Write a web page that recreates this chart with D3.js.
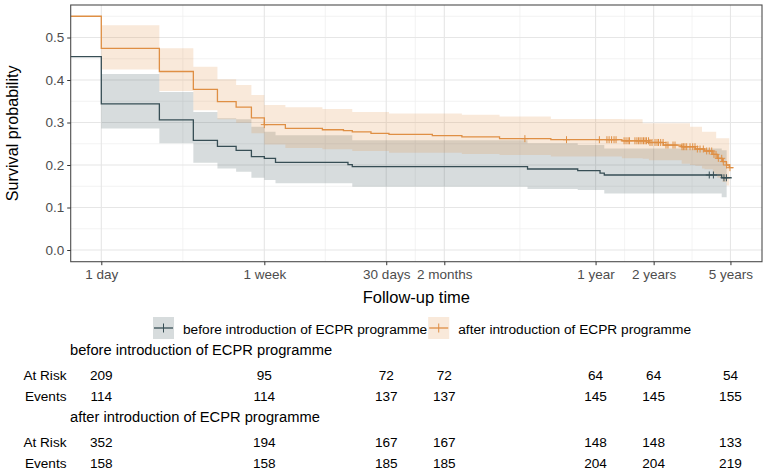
<!DOCTYPE html>
<html>
<head>
<meta charset="utf-8">
<script src="https://cdn.jsdelivr.net/npm/d3@7"></script>
<style>
  body { margin: 0; background: white; }
  svg { font-family: "Liberation Sans", Arial, sans-serif; }
</style>
</head>
<body>
<script>
//initial settings for the page
const width = 767;
const height = 470;

// --------------------
// DATA
// --------------------
const groups = ["before introduction of ECPR programme", "after introduction of ECPR programme"];
const colors = ["#374E55", "#DF8F44"];

// x ticks (days) and labels
const tickDays = [1, 7, 30, 60, 365, 730, 1826];
const tickLabels = ["1 day", "1 week", "30 days", "2 months", "1 year", "2 years", "5 years"];
const yTicks = [0, 0.1, 0.2, 0.3, 0.4, 0.5];

// before: step curve (time 0 = start of follow-up, last entry = end of follow-up)
const beforeTime = [0, 1, 2, 3, 4, 5, 6, 7, 8, 19, 20, 162, 295, 385, 405, 1645, 1853];
const beforeSurv = [0.455, 0.344, 0.306, 0.258, 0.244, 0.2345, 0.2196, 0.2157, 0.2063, 0.2008, 0.196, 0.1906, 0.1866, 0.181, 0.1765, 0.170, 0.170];
const beforeCiTime = [1, 2, 3, 4, 5, 6, 7, 8, 20, 162, 295, 405, 1645, 1745];
const beforeLower = [0.286, 0.251, 0.2055, 0.192, 0.184, 0.170, 0.1647, 0.157, 0.149, 0.1435, 0.141, 0.133, 0.124, 0.124];
const beforeUpper = [0.414, 0.372, 0.325, 0.31, 0.3075, 0.29, 0.278, 0.27, 0.258, 0.251, 0.247, 0.239, 0.235, 0.235];
const beforeCensor = [1418, 1490, 1690, 1740];

// after
const afterTime = [0, 1, 2, 3, 4, 5, 6, 7, 9, 14, 18, 20, 25, 31, 52, 74, 116, 214, 500, 690, 820, 1020, 1200, 1340, 1480, 1560, 1660, 1740, 1800, 1890];
const afterSurv = [0.55, 0.4745, 0.420, 0.378, 0.349, 0.336, 0.311, 0.295, 0.286, 0.283, 0.281, 0.278, 0.2745, 0.272, 0.269, 0.266, 0.262, 0.2595, 0.257, 0.253, 0.247, 0.243, 0.2376, 0.233, 0.225, 0.2157, 0.208, 0.200, 0.1937, 0.1937];
const afterCiTime = [1, 2, 3, 4, 5, 6, 7, 9, 14, 20, 31, 74, 116, 214, 500, 640, 690, 1020, 1127, 1200, 1300, 1340, 1480, 1540, 1560, 1660, 1740, 1800];
const afterLower = [0.425, 0.374, 0.329, 0.3075, 0.2996, 0.275, 0.248, 0.240, 0.237, 0.233, 0.229, 0.226, 0.2235, 0.220, 0.216, 0.215, 0.211, 0.203, 0.20, 0.198, 0.192, 0.19, 0.18, 0.175, 0.17, 0.16, 0.152, 0.152];
const afterUpper = [0.529, 0.4745, 0.431, 0.402, 0.388, 0.365, 0.341, 0.336, 0.332, 0.325, 0.321, 0.318, 0.314, 0.308, 0.3075, 0.298, 0.298, 0.298, 0.29, 0.29, 0.278, 0.278, 0.278, 0.263, 0.263, 0.263, 0.263, 0.263];
const afterCensor = [7, 157, 258, 382, 418, 429, 442, 455, 466, 513, 525, 538, 547, 584, 598, 610, 621, 635, 647, 659, 670, 687, 699, 716, 742, 760, 774, 794, 817, 846, 866, 920, 942, 1024, 1041, 1061, 1083, 1127, 1164, 1196, 1230, 1270, 1321, 1375, 1418, 1460, 1500, 1537, 1580, 1645, 1677, 1745, 1815];

// risk table
const beforeAtRisk = [209, 95, 72, 72, 64, 64, 54];
const beforeEvents = [114, 114, 137, 137, 145, 145, 155];
const afterAtRisk = [352, 194, 167, 167, 148, 148, 133];
const afterEvents = [158, 158, 185, 185, 204, 204, 219];

// --------------------
// SETUP
// --------------------
const panel = {left: 70.7, right: 762, top: 5, bottom: 261.7};

const svg = d3.select("body")
  .append("svg")
  .attr("width", width)
  .attr("height", height);

svg.append("rect").attr("width", width).attr("height", height).attr("fill", "white");

// log time axis, domain includes ggplot-like padding
const x = d3.scaleLog()
  .domain([0.694, 2661])
  .range([panel.left, panel.right]);

const y = d3.scaleLinear()
  .domain([0, 0.5])
  .range([250, 37.5]);

const tx = t => x(Math.max(t, x.domain()[0]));

// --------------------
// GRID
// --------------------
const grid = svg.append("g");
const lg = d3.range(tickDays.length - 1).map(i => Math.sqrt(tickDays[i] * tickDays[i + 1]));
const yMinor = yTicks.map(v => v + 0.05);

grid.selectAll(".xminor").data(lg).enter().append("line")
  .attr("x1", d => x(d)).attr("x2", d => x(d))
  .attr("y1", panel.top).attr("y2", panel.bottom)
  .attr("stroke", "#F0F0F0").attr("stroke-width", 0.8);
grid.selectAll(".yminor").data(yMinor).enter().append("line")
  .attr("x1", panel.left).attr("x2", panel.right)
  .attr("y1", d => y(d)).attr("y2", d => y(d))
  .attr("stroke", "#F0F0F0").attr("stroke-width", 0.8);
grid.selectAll(".xmajor").data(tickDays).enter().append("line")
  .attr("x1", d => x(d)).attr("x2", d => x(d))
  .attr("y1", panel.top).attr("y2", panel.bottom)
  .attr("stroke", "#E6E6E6").attr("stroke-width", 1.1);
grid.selectAll(".ymajor").data(yTicks).enter().append("line")
  .attr("x1", panel.left).attr("x2", panel.right)
  .attr("y1", d => y(d)).attr("y2", d => y(d))
  .attr("stroke", "#E6E6E6").attr("stroke-width", 1.1);

// --------------------
// CURVES
// --------------------
const plot = svg.append("g");

const area = d3.area()
  .curve(d3.curveStepAfter)
  .x(d => tx(d.t))
  .y0(d => y(d.lo))
  .y1(d => y(d.hi));

const line = d3.line()
  .curve(d3.curveStepAfter)
  .x(d => tx(d.t))
  .y(d => y(d.s));

const series = [
  {time: beforeTime, surv: beforeSurv, ciTime: beforeCiTime, lower: beforeLower, upper: beforeUpper, censor: beforeCensor},
  {time: afterTime, surv: afterSurv, ciTime: afterCiTime, lower: afterLower, upper: afterUpper, censor: afterCensor}
];

// ribbons first
series.forEach((s, k) => {
  const ci = s.ciTime.map((t, i) => ({t: t, lo: s.lower[i], hi: s.upper[i]}));
  plot.append("path")
    .attr("d", area(ci))
    .attr("fill", colors[k])
    .attr("fill-opacity", 0.2);
});

// step lines + censor marks
series.forEach((s, k) => {
  const pts = s.time.map((t, i) => ({t: t, s: s.surv[i]}));
  plot.append("path")
    .attr("d", line(pts))
    .attr("fill", "none")
    .attr("stroke", colors[k])
    .attr("stroke-width", 1.3);

  //survival value at a censor time
  const survAt = t => {
    let v = s.surv[0];
    s.time.forEach((tt, i) => { if (tt <= t) v = s.surv[i]; });
    return v;
  };

  const marks = plot.append("g")
    .selectAll("g")
    .data(s.censor)
    .enter()
    .append("g")
    .attr("transform", d => `translate(${x(d)},${y(survAt(d))})`);
  marks.append("line").attr("x1", -3.5).attr("x2", 3.5)
    .attr("stroke", colors[k]).attr("stroke-width", 1);
  marks.append("line").attr("y1", -3.5).attr("y2", 3.5)
    .attr("stroke", colors[k]).attr("stroke-width", 1);
});

// panel border
svg.append("rect")
  .attr("x", panel.left).attr("y", panel.top)
  .attr("width", panel.right - panel.left).attr("height", panel.bottom - panel.top)
  .attr("fill", "none").attr("stroke", "#4D4D4D").attr("stroke-width", 1.1);

// --------------------
// AXES
// --------------------
const xAxis = svg.append("g")
  .attr("transform", `translate(0,${panel.bottom})`)
  .call(d3.axisBottom(x).tickValues(tickDays).tickFormat((d, i) => tickLabels[i]).tickSize(3.5).tickPadding(4));
const yAxis = svg.append("g")
  .attr("transform", `translate(${panel.left},0)`)
  .call(d3.axisLeft(y).tickValues(yTicks).tickFormat(d3.format(".1f")).tickSize(3.5).tickPadding(3));

[xAxis, yAxis].forEach(a => {
  a.select(".domain").remove();
  a.selectAll(".tick line").attr("stroke", "#333333").attr("stroke-width", 1);
  a.selectAll(".tick text")
    .attr("fill", "#4D4D4D")
    .attr("font-size", "13.5px")
    .attr("font-family", "Liberation Sans, Arial, sans-serif");
});

svg.append("text")
  .attr("x", (panel.left + panel.right) / 2)
  .attr("y", 302.5)
  .attr("text-anchor", "middle")
  .attr("font-size", "16.5px")
  .text("Follow-up time");

svg.append("text")
  .attr("transform", `translate(18,${(panel.top + panel.bottom) / 2}) rotate(-90)`)
  .attr("text-anchor", "middle")
  .attr("font-size", "16.2px")
  .text("Survival probability");

// --------------------
// LEGEND
// --------------------
const legend = svg.append("g");
let lx = 153;
groups.forEach((g, k) => {
  const key = legend.append("g").attr("transform", `translate(${lx},317)`);
  key.append("rect").attr("width", 21).attr("height", 22)
    .attr("fill", colors[k]).attr("fill-opacity", 0.2);
  key.append("line").attr("x1", 1).attr("x2", 20).attr("y1", 11).attr("y2", 11)
    .attr("stroke", colors[k]).attr("stroke-width", 1.3);
  key.append("line").attr("x1", 10.5).attr("x2", 10.5).attr("y1", 6.5).attr("y2", 15.5)
    .attr("stroke", colors[k]).attr("stroke-width", 1);
  const t = legend.append("text")
    .attr("x", lx + 30)
    .attr("y", 333.5)
    .attr("font-size", "13.7px")
    .text(g);
  lx = lx + 30 + t.node().getComputedTextLength() + 1;
});

// --------------------
// RISK TABLE
// --------------------
const table = svg.append("g");
const blocks = [
  {title: groups[0], top: 354.5, rows: [["At Risk", beforeAtRisk], ["Events", beforeEvents]]},
  {title: groups[1], top: 421.5, rows: [["At Risk", afterAtRisk], ["Events", afterEvents]]}
];

blocks.forEach(b => {
  table.append("text")
    .attr("x", 70)
    .attr("y", b.top)
    .attr("font-size", "14.7px")
    .text(b.title);
  b.rows.forEach((r, j) => {
    const ry = b.top + 25.5 + j * 20.7;
    table.append("text")
      .attr("x", 66.5)
      .attr("y", ry)
      .attr("text-anchor", "end")
      .attr("font-size", "13.6px")
      .text(r[0]);
    table.selectAll(null)
      .data(r[1])
      .enter()
      .append("text")
      .attr("x", (d, i) => x(tickDays[i]))
      .attr("y", ry)
      .attr("text-anchor", "middle")
      .attr("font-size", "13.6px")
      .text(d => d);
  });
});
</script>
</body>
</html>
